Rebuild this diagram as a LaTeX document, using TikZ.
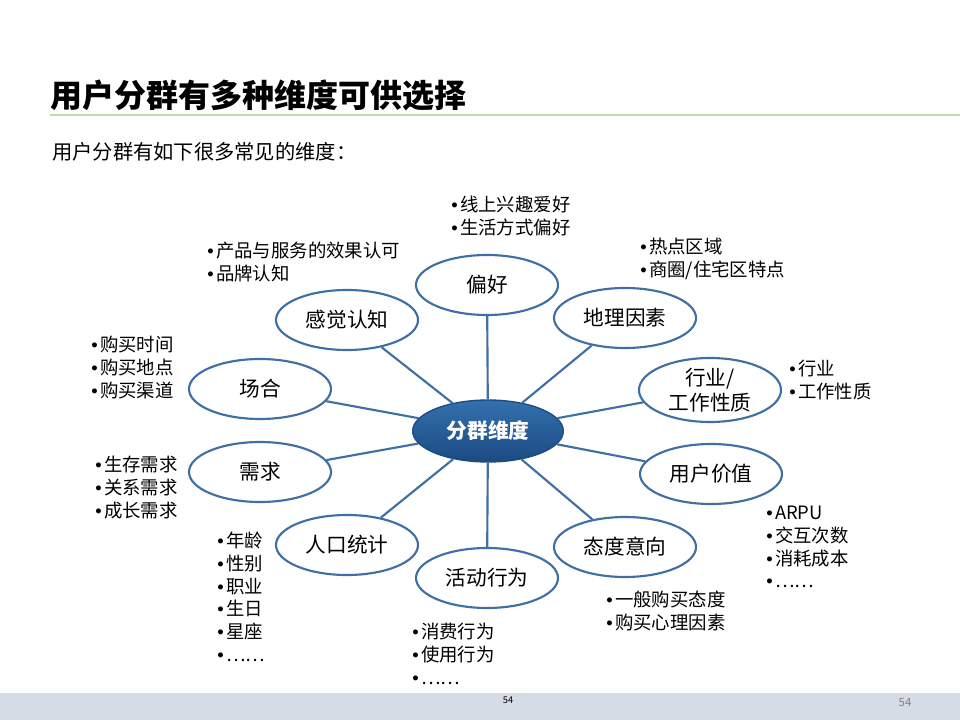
\documentclass[tikz,border=0pt]{standalone}
\usepackage{fontspec}
\setmainfont{Noto Sans CJK SC}
\newfontfamily\bulfont{Liberation Sans}
\newcommand\bl{{\bulfont •}\hspace{1.8pt}}
\usetikzlibrary{shapes.geometric}
\definecolor{edgeblue}{HTML}{3F6FA5}
\definecolor{hubtop}{HTML}{3470AE}
\definecolor{hubbot}{HTML}{1C4A82}
\definecolor{footband}{HTML}{D5DCE6}
\definecolor{ruleline}{HTML}{C3D9A8}
\tikzset{
  dim/.style={ellipse, draw=edgeblue, line width=1.6pt, fill=white,
    minimum width=106.5pt, minimum height=45pt, inner sep=0pt,
    font=\fontsize{15.5pt}{19pt}\selectfont, align=center},
  hub/.style={ellipse, draw=hubbot, line width=1pt, top color=hubtop, bottom color=hubbot,
    minimum width=113pt, minimum height=46.5pt, inner sep=0pt, text=white,
    font=\fontsize{15.5pt}{19pt}\selectfont\bfseries},
  spoke/.style={draw=edgeblue, line width=1.6pt},
  blist/.style={anchor=north west, inner sep=0pt, align=left,
    font=\fontsize{13.8pt}{17pt}\selectfont}
}
\begin{document}
\begin{tikzpicture}[x=0.75pt, y=-0.75pt]
\useasboundingbox (0,0) rectangle (960,720);
\fill[white] (0,0) rectangle (960,720);
% title
\node[anchor=west, inner sep=0pt, font=\fontsize{24pt}{28pt}\selectfont\bfseries] (title) at (50,95) {用户分群有多种维度可供选择};
\draw[ruleline, line width=0.8pt] (50,115) coordinate (rl) -- (960,115) coordinate (rr);
\node[anchor=west, inner sep=0pt, font=\fontsize{15.2pt}{18pt}\selectfont] (sub) at (52,152) {用户分群有如下很多常见的维度：};
% footer
\fill[footband] (0,693) rectangle (960,720);
\node[inner sep=0pt, font=\fontsize{7pt}{8pt}\selectfont] (pg1) at (508,700) {54};
\node[inner sep=0pt, text=gray, font=\fontsize{8.5pt}{10pt}\selectfont] (pg2) at (905,703) {54};
% hub and dimensions
\node[hub] (hub) at (488,431) {分群维度};
\node[dim] (pian) at (487,285) {偏好};
\node[dim] (gan) at (347,320) {感觉认知};
\node[dim] (dili) at (625,318) {地理因素};
\node[dim] (chang) at (260,389) {场合};
\node[dim, minimum height=48pt] (hang) at (710,390) {行业/\\工作性质};
\node[dim] (xu) at (260,472) {需求};
\node[dim] (jia) at (711,474) {用户价值};
\node[dim] (ren) at (347,545) {人口统计};
\node[dim] (tai) at (625,547) {态度意向};
\node[dim] (huo) at (487,578) {活动行为};
\foreach \n in {pian,gan,dili,chang,hang,xu,jia,ren,tai,huo}
  \draw[spoke] (hub) -- (\n);
% bullet lists
\node[blist] (l1) at (451,196) {\bl 线上兴趣爱好\\\bl 生活方式偏好};
\node[blist] (l2) at (207,242) {\bl 产品与服务的效果认可\\\bl 品牌认知};
\node[blist] (l3) at (640,238) {\bl 热点区域\\\bl 商圈/住宅区特点};
\node[blist] (l4) at (91,336) {\bl 购买时间\\\bl 购买地点\\\bl 购买渠道};
\node[blist] (l5) at (789,360) {\bl 行业\\\bl 工作性质};
\node[blist] (l6) at (95,456) {\bl 生存需求\\\bl 关系需求\\\bl 成长需求};
\node[blist] (l7) at (766,506) {\bl ARPU\\\bl 交互次数\\\bl 消耗成本\\\bl ……};
\node[blist] (l8) at (217,532) {\bl 年龄\\\bl 性别\\\bl 职业\\\bl 生日\\\bl 星座\\\bl ……};
\node[blist] (l9) at (606,591) {\bl 一般购买态度\\\bl 购买心理因素};
\node[blist] (l10) at (412,623) {\bl 消费行为\\\bl 使用行为\\\bl ……};
\end{tikzpicture}
\end{document}
